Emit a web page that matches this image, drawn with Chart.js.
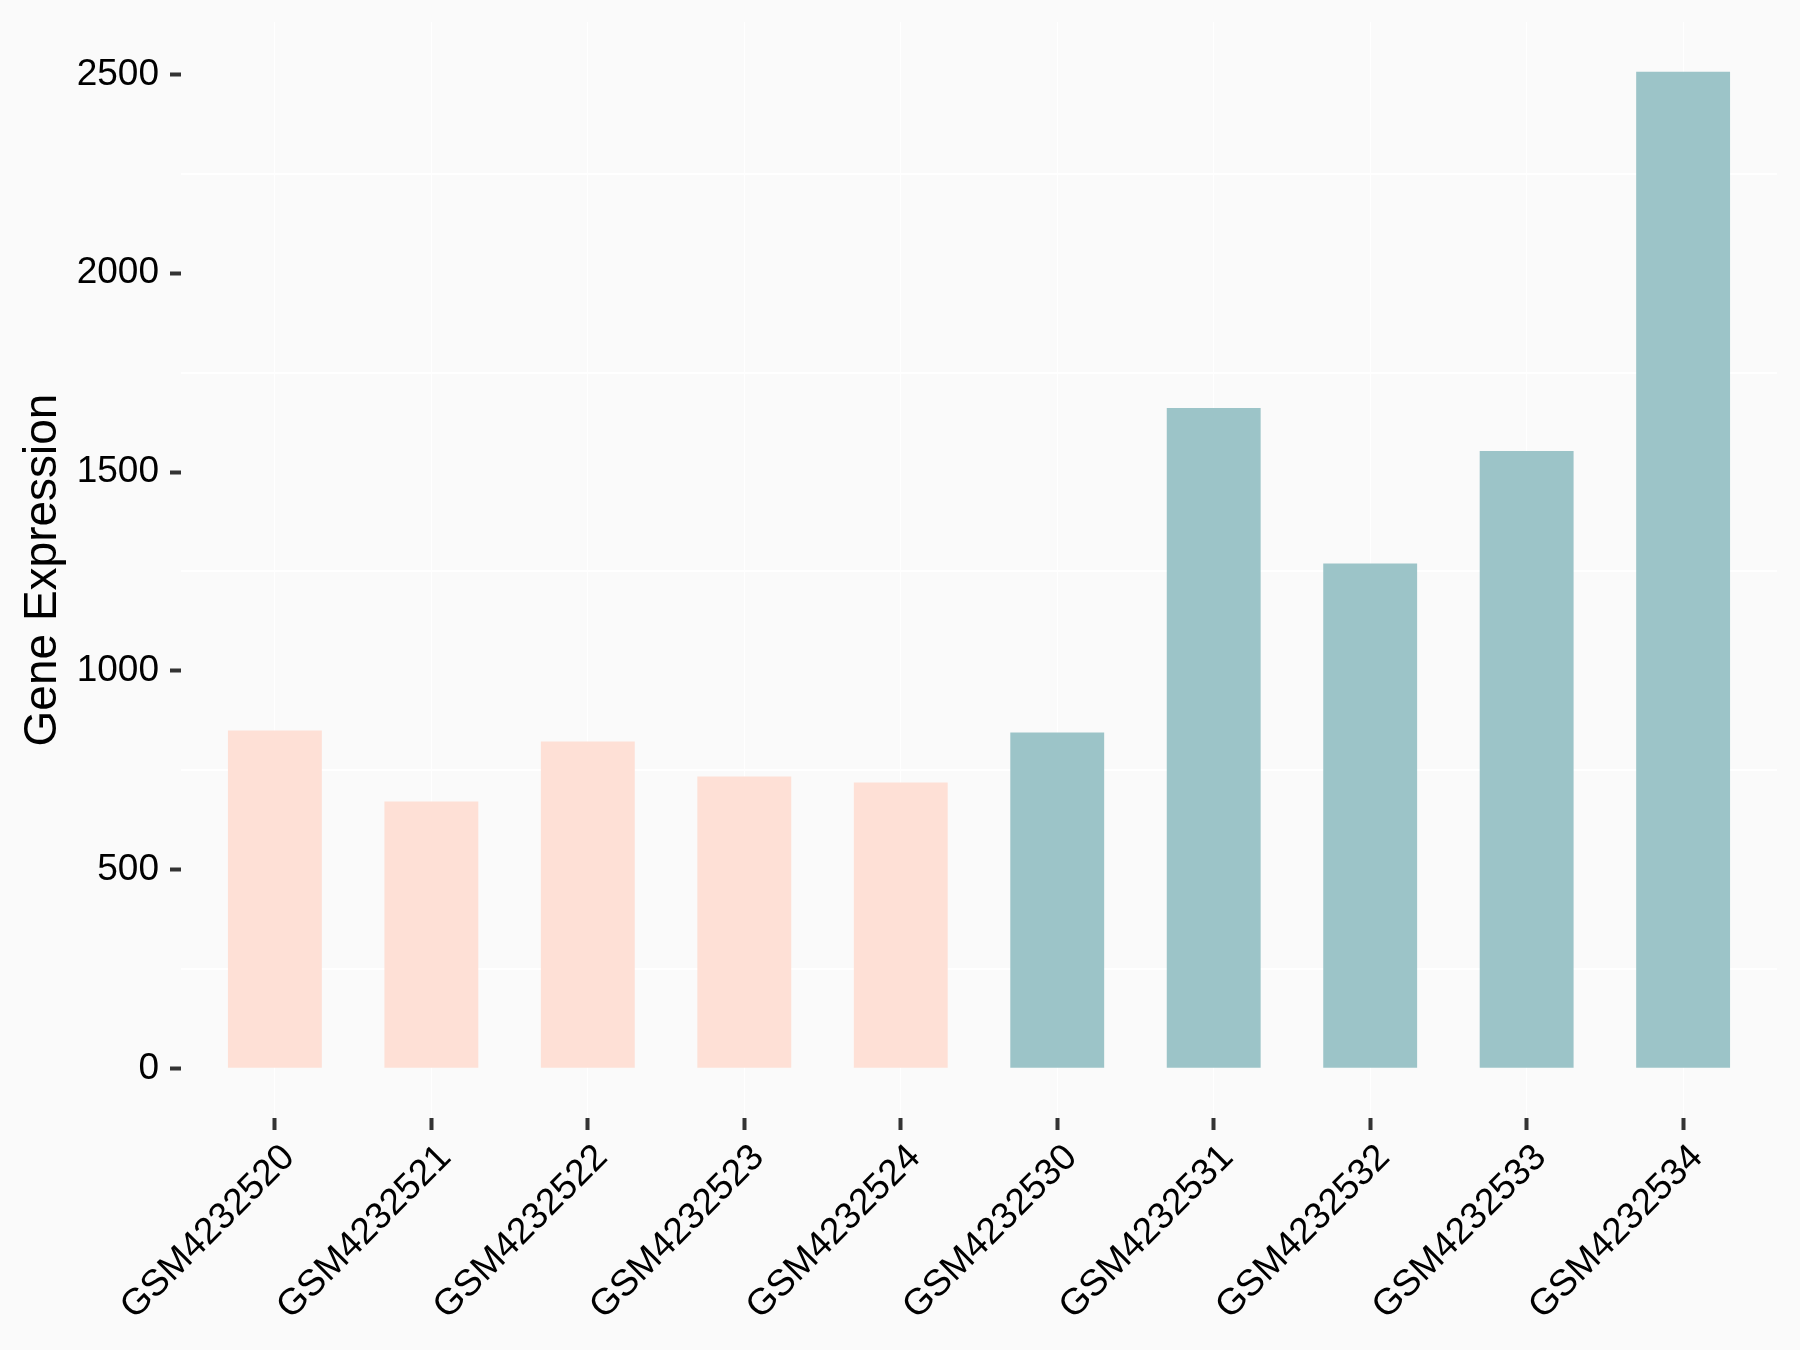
<!DOCTYPE html>
<html>
<head>
<meta charset="utf-8">
<title>Gene Expression</title>
<script src="https://cdn.jsdelivr.net/npm/chart.js@4/dist/chart.umd.min.js"></script>
<style>
  html, body { margin: 0; padding: 0; background: #FAFAFA; }
  canvas { display: block; }
</style>
</head>
<body>
<canvas id="chartExpr" width="1800" height="1350"></canvas>
<script>
/* Samples & values */
const samples = [
  'GSM4232520', 'GSM4232521', 'GSM4232522', 'GSM4232523', 'GSM4232524',
  'GSM4232530', 'GSM4232531', 'GSM4232532', 'GSM4232533', 'GSM4232534',
];
const expression = [850, 671, 822, 734, 719, 845, 1661, 1270, 1553, 2507];
const group = ['g1', 'g1', 'g1', 'g1', 'g1', 'g2', 'g2', 'g2', 'g2', 'g2'];
const groupColors = { g1: '#FEE0D6', g2: '#9CC4C8' };

const yTicks = [0, 500, 1000, 1500, 2000, 2500];
const yMinor = [250, 750, 1250, 1750, 2250];

const FONT = "'Liberation Sans', Arial, sans-serif";

/* white minor grid lines under the bars */
const minorGrid = {
  id: 'minorGrid',
  beforeDatasetsDraw(chart) {
    const { ctx, chartArea: a, scales: { y } } = chart;
    ctx.save();
    ctx.strokeStyle = '#FFFFFF';
    ctx.lineWidth = 2;
    yMinor.forEach(v => {
      const py = Math.round(y.getPixelForValue(v));
      ctx.beginPath();
      ctx.moveTo(a.left, py);
      ctx.lineTo(a.right, py);
      ctx.stroke();
    });
    ctx.restore();
  },
};

new Chart(document.getElementById('chartExpr'), {
  type: 'bar',
  data: {
    datasets: [{
      label: 'Gene Expression',
      data: expression.map((v, i) => ({ x: i + 1, y: v })),
      backgroundColor: group.map(g => groupColors[g]),
      borderWidth: 0,
      barPercentage: 0.6,
      categoryPercentage: 1,
    }],
  },
  options: {
    responsive: false,
    animation: false,
    layout: { padding: { left: 0, right: 23, top: 22, bottom: 0 } },
    plugins: {
      legend: { display: false },
      tooltip: { enabled: false },
    },
    scales: {
      x: {
        type: 'linear',
        min: 0.4,
        max: 10.6,
        offset: false,
        afterBuildTicks: s => { s.ticks = samples.map((_, i) => ({ value: i + 1 })); },
        afterFit: s => { s.height = 232; },
        border: { display: false },
        grid: {
          offset: false,
          color: 'rgba(255,255,255,0.9)',
          lineWidth: 1,
          tickColor: '#333333',
          tickWidth: 4,
          tickLength: 12,
        },
        ticks: {
          autoSkip: false,
          minRotation: 45,
          maxRotation: 45,
          padding: 6,
          labelOffset: 14,
          color: '#000000',
          font: { family: FONT, size: 37 },
          callback: v => samples[v - 1],
        },
      },
      y: {
        min: -125,
        max: 2632,
        afterBuildTicks: s => { s.ticks = yTicks.map(v => ({ value: v })); },
        afterFit: s => { s.width = 181; s.paddingTop = 0; s.paddingBottom = 0; },
        border: { display: false },
        grid: {
          drawOnChartArea: false,
          tickColor: '#333333',
          tickWidth: 4,
          tickLength: 11,
        },
        ticks: {
          padding: 11,
          color: '#000000',
          font: { family: FONT, size: 37 },
          callback: v => String(v),
        },
        title: {
          display: true,
          text: 'Gene Expression',
          color: '#000000',
          font: { family: FONT, size: 46, lineHeight: 1 },
          padding: { top: 20, bottom: 0 },
        },
      },
    },
  },
  plugins: [minorGrid],
});
</script>
</body>
</html>
